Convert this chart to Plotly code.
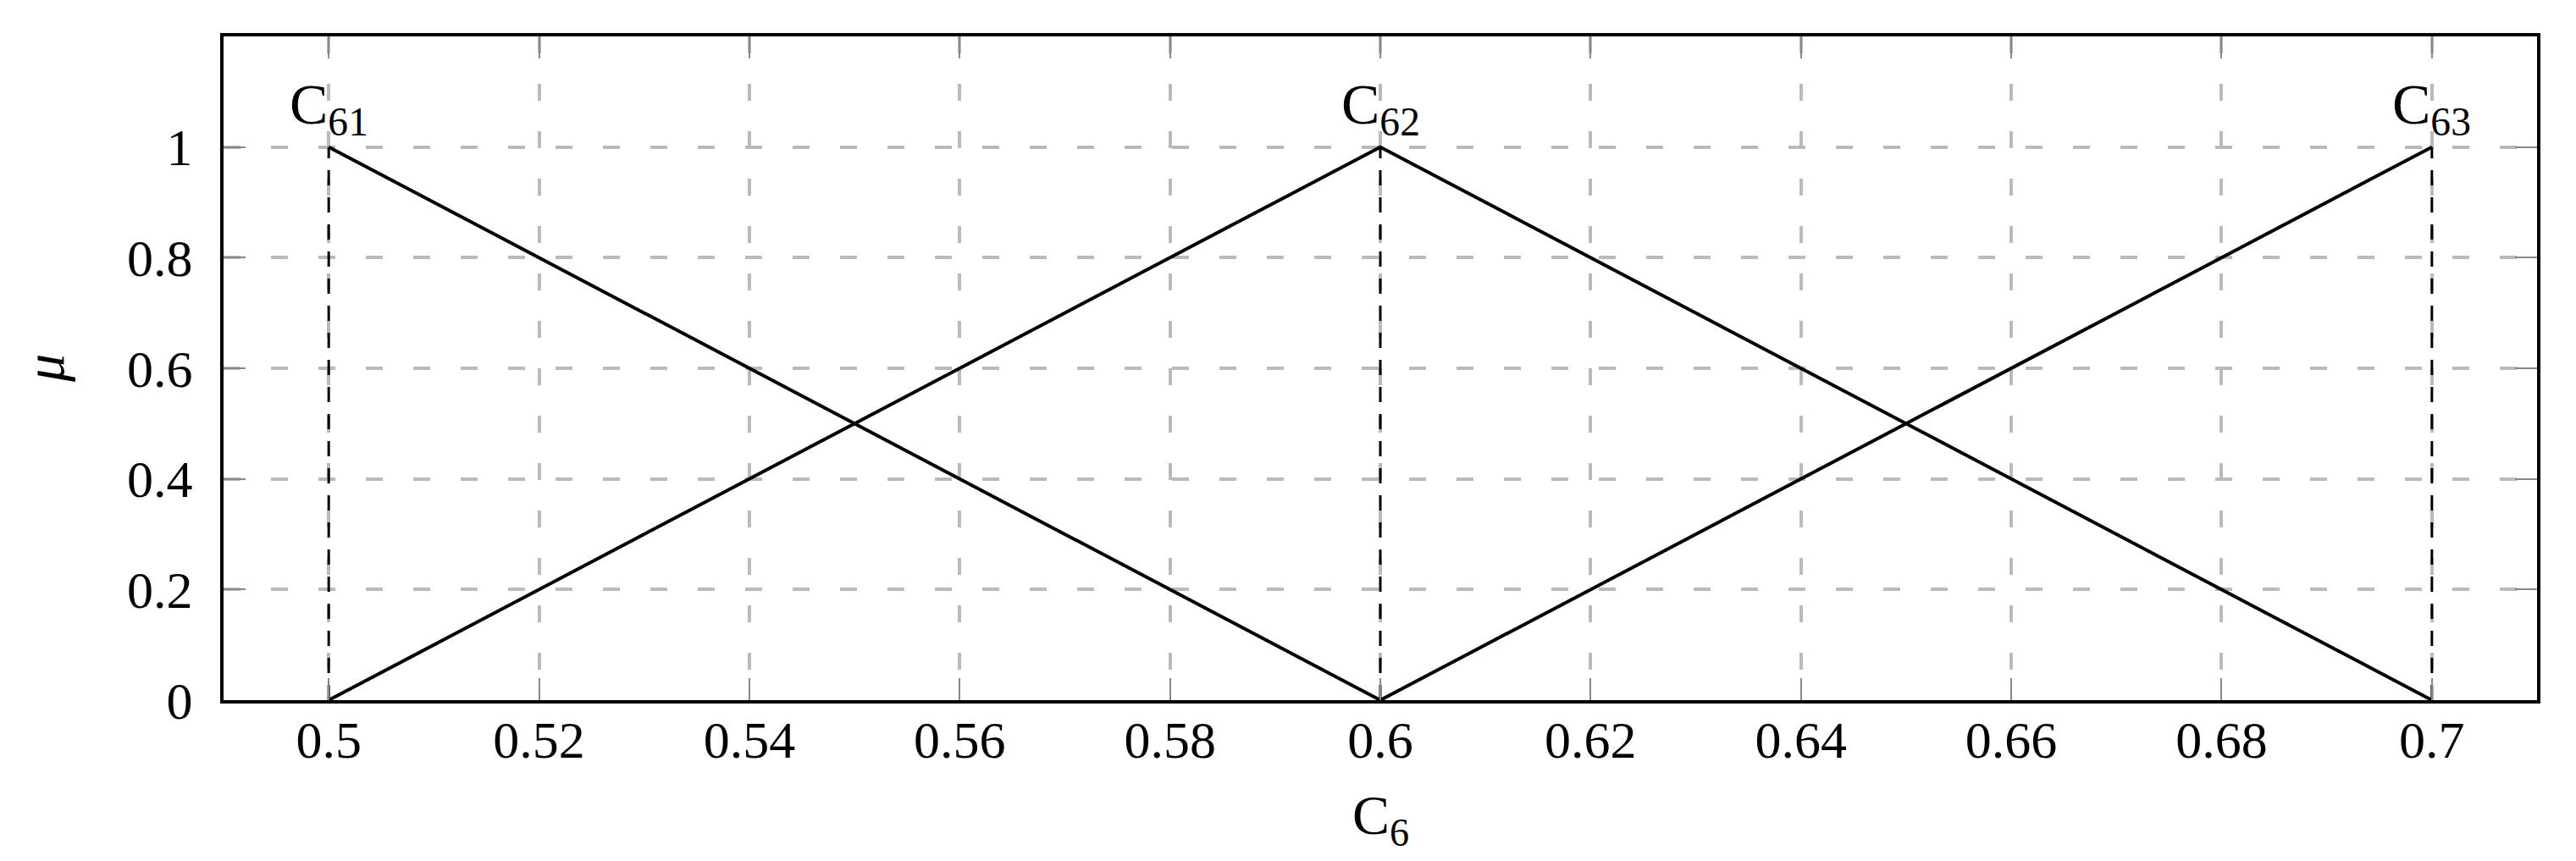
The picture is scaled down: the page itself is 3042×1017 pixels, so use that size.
import plotly.graph_objects as go

# Membership functions for C6
c61_x = [0.5, 0.6]
c61_y = [1, 0]
c62_x = [0.5, 0.6, 0.7]
c62_y = [0, 1, 0]
c63_x = [0.6, 0.7]
c63_y = [0, 1]
peaks_x = [0.5, 0.6, 0.7]
peaks_y = [1, 1, 1]
peak_labels = ["C<sub>61</sub>", "C<sub>62</sub>", "C<sub>63</sub>"]

x_ticks = [0.5, 0.52, 0.54, 0.56, 0.58, 0.6, 0.62, 0.64, 0.66, 0.68, 0.7]
x_ticktext = ["0.5", "0.52", "0.54", "0.56", "0.58", "0.6", "0.62", "0.64", "0.66", "0.68", "0.7"]
y_ticks = [0, 0.2, 0.4, 0.6, 0.8, 1]
y_ticktext = ["0", "0.2", "0.4", "0.6", "0.8", "1"]
x_title = "C<sub>6</sub>"
y_title = "<i>μ</i>"

FONT = "Liberation Serif"
fig = go.Figure()

# dashed vertical lines from peaks to axis
for px, py in zip(peaks_x, peaks_y):
    fig.add_trace(go.Scatter(x=[px, px], y=[0, py], mode="lines",
                             line=dict(color="black", width=3, dash="18px,14px"),
                             showlegend=False, hoverinfo="skip"))

for xs, ys in [(c61_x, c61_y), (c62_x, c62_y), (c63_x, c63_y)]:
    fig.add_trace(go.Scatter(x=xs, y=ys, mode="lines",
                             line=dict(color="black", width=4),
                             showlegend=False))

for px, py, lab in zip(peaks_x, peaks_y, peak_labels):
    fig.add_annotation(x=px, y=py, text=lab, showarrow=False,
                       xanchor="center", yanchor="bottom", yshift=2,
                       font=dict(family=FONT, size=68, color="black"))

# axis titles
fig.add_annotation(xref="paper", yref="paper", x=0.5, y=0, text=x_title,
                   showarrow=False, xanchor="center", yanchor="middle", yshift=-140,
                   font=dict(family=FONT, size=66, color="black"))
fig.add_annotation(xref="paper", yref="paper", x=0, y=0.5, text=y_title,
                   showarrow=False, xanchor="center", yanchor="middle", xshift=-212,
                   textangle=-90, borderpad=0,
                   font=dict(family=FONT, size=66, color="black"))

axis_common = dict(
    showline=True, linecolor="black", linewidth=4, mirror="ticks",
    ticks="inside", ticklen=26, tickwidth=1.5, tickcolor="#888888",
    showgrid=True, gridcolor="#bababa", gridwidth=3.5, griddash="20px,36px",
    zeroline=False, automargin=False,
    tickfont=dict(family=FONT, size=62, color="black"),
)

fig.update_xaxes(range=[0.49, 0.71], tickvals=x_ticks, ticktext=x_ticktext,
                 ticklabelstandoff=-10, **axis_common)
fig.update_yaxes(range=[0, 1.2], tickvals=y_ticks, ticktext=y_ticktext,
                 ticklabelstandoff=20, **axis_common)

# page body has an 8px default margin; size figure to compensate
fig.update_layout(
    width=3034, height=1009,
    margin=dict(l=256, r=46, t=35, b=190),
    plot_bgcolor="white", paper_bgcolor="white",
    showlegend=False,
)

fig.write_html("out.html")
